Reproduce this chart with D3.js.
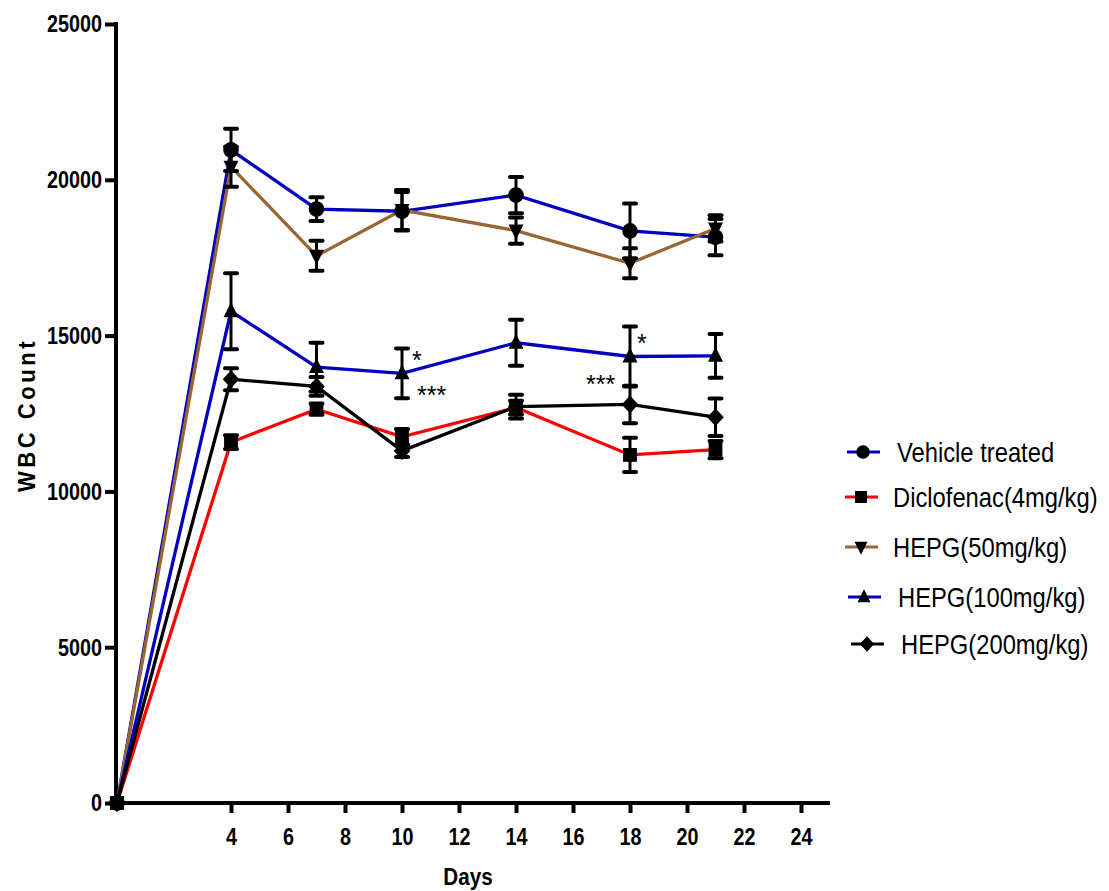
<!DOCTYPE html>
<html><head><meta charset="utf-8">
<script src="https://cdn.jsdelivr.net/npm/d3@7"></script>
<style>body{margin:0;background:#fff;} svg{display:block;}</style>
</head><body>
<svg id="chart" width="1109" height="891"></svg>
<script>
const days = [0, 4, 7, 10, 14, 18, 21];
const seriesNames = ["Vehicle treated", "Diclofenac(4mg/kg)", "HEPG(50mg/kg)", "HEPG(100mg/kg)", "HEPG(200mg/kg)"];
const seriesColors = ["#0000c0", "#ff0000", "#996633", "#0000c0", "#000000"];
const seriesSymbols = ["circle", "square", "down", "up", "diamond"];
const vehicleMean = [0, 20960, 19060, 18990, 19510, 18360, 18160];
const vehicleErr  = [0, 680, 380, 620, 580, 880, 580];
const diclofenacMean = [0, 11580, 12640, 11750, 12690, 11170, 11340];
const diclofenacErr  = [0, 220, 180, 250, 220, 550, 280];
const hepg50Mean = [0, 20420, 17560, 19030, 18370, 17320, 18440];
const hepg50Err  = [0, 640, 480, 640, 420, 480, 420];
const hepg100Mean = [0, 15780, 13990, 13790, 14770, 14330, 14350];
const hepg100Err  = [0, 1220, 780, 800, 740, 960, 700];
const hepg200Mean = [0, 13600, 13370, 11300, 12720, 12790, 12380];
const hepg200Err  = [0, 350, 300, 200, 380, 600, 600];
const yTicks = [0, 5000, 10000, 15000, 20000, 25000];
const xTicks = [4, 6, 8, 10, 12, 14, 16, 18, 20, 22, 24];
const annotations = [
  {day: 10, value: 13790, text: "*", dx: 10, dy: -16},
  {day: 10, value: 13790, text: "***", dx: 15, dy: 19},
  {day: 18, value: 14330, text: "*", dx: 7, dy: -16},
  {day: 18, value: 14330, text: "***", dx: -44, dy: 25}
];

const means = [vehicleMean, diclofenacMean, hepg50Mean, hepg100Mean, hepg200Mean];
const errs = [vehicleErr, diclofenacErr, hepg50Err, hepg100Err, hepg200Err];

const svg = d3.select("#chart");
const x = d3.scaleLinear().domain([0, 24]).range([117, 801]);
const y = d3.scaleLinear().domain([0, 25000]).range([803, 24]);
const font = "'Liberation Sans', Arial, sans-serif";

function squeeze(sel, sx) {
  sel.each(function() {
    const t = d3.select(this);
    const ax = +t.attr("x") || 0;
    t.attr("transform", `translate(${ax},0) scale(${sx},1) translate(${-ax},0)`);
  });
}

// axes
const yAxis = svg.append("g").attr("transform", "translate(116,0)")
  .call(d3.axisLeft(y).tickValues(yTicks).tickSize(11).tickPadding(3).tickFormat(d3.format("d")));
yAxis.select(".domain").remove();
yAxis.append("line").attr("x1", 0).attr("x2", 0).attr("y1", 22).attr("y2", 805)
  .attr("stroke", "#000").attr("stroke-width", 4);
yAxis.selectAll(".tick line").attr("stroke", "#000").attr("stroke-width", 4);
yAxis.selectAll(".tick text").attr("font-family", font).attr("font-weight", "bold")
  .attr("font-size", 23).attr("fill", "#000").attr("dy", "0.34em");
squeeze(yAxis.selectAll(".tick text"), 0.86);

const xAxis = svg.append("g").attr("transform", "translate(0,803)")
  .call(d3.axisBottom(x).tickValues(xTicks).tickSize(10).tickPadding(16));
xAxis.select(".domain").remove();
xAxis.append("line").attr("x1", 114).attr("x2", 830).attr("y1", 0).attr("y2", 0)
  .attr("stroke", "#000").attr("stroke-width", 4);
xAxis.selectAll(".tick line").attr("stroke", "#000").attr("stroke-width", 4);
xAxis.selectAll(".tick text").attr("font-family", font).attr("font-weight", "bold")
  .attr("font-size", 23).attr("fill", "#000");
xAxis.selectAll(".tick text").attr("transform", "scale(0.86,1)").attr("x", function() { return 0; });

const daysT = svg.append("text").attr("x", 468).attr("y", 885).attr("text-anchor", "middle")
  .attr("font-family", font).attr("font-weight", "bold").attr("font-size", 24).text("Days");
squeeze(daysT, 0.86);
svg.append("text").attr("transform", "translate(35,415) rotate(-90) scale(0.92,1)").attr("text-anchor", "middle")
  .attr("font-family", font).attr("font-weight", "bold").attr("font-size", 24)
  .attr("letter-spacing", 3.8).text("WBC Count");

function symbolPath(type, s) {
  if (type === "circle") return d3.symbol(d3.symbolCircle, s * s * 0.85)();
  if (type === "square") return d3.symbol(d3.symbolSquare, s * s * 0.85)();
  if (type === "diamond") return `M0,${-s*0.6}L${s*0.55},0L0,${s*0.6}L${-s*0.55},0Z`;
  if (type === "up") return `M0,${-s*0.6}L${s*0.5},${s*0.4}L${-s*0.5},${s*0.4}Z`;
  if (type === "down") return `M0,${s*0.6}L${s*0.5},${-s*0.4}L${-s*0.5},${-s*0.4}Z`;
}

const line = d3.line().x((d, i) => x(days[i])).y(d => y(d));
const plot = svg.append("g");
means.forEach((m, k) => {
  plot.append("path").datum(m).attr("d", line).attr("fill", "none")
    .attr("stroke", seriesColors[k]).attr("stroke-width", 3.3);
});
means.forEach((m, k) => {
  const g = plot.append("g");
  m.forEach((v, i) => {
    const e = errs[k][i];
    if (!e) return;
    const cx = x(days[i]);
    g.append("line").attr("x1", cx).attr("x2", cx).attr("y1", y(v - e)).attr("y2", y(v + e))
      .attr("stroke", "#000").attr("stroke-width", 3);
    [v - e, v + e].forEach(b => {
      g.append("line").attr("x1", cx - 6).attr("x2", cx + 6).attr("y1", y(b)).attr("y2", y(b))
        .attr("stroke", "#000").attr("stroke-width", 4).attr("stroke-linecap", "round");
    });
  });
});
means.forEach((m, k) => {
  plot.append("g").selectAll("path").data(m).join("path")
    .attr("transform", (d, i) => `translate(${x(days[i])},${y(d)})`)
    .attr("d", symbolPath(seriesSymbols[k], 15)).attr("fill", "#000");
});
annotations.forEach(a => {
  svg.append("text").attr("x", x(a.day) + a.dx).attr("y", y(a.value) + a.dy + 12)
    .attr("font-family", font).attr("font-size", 25).attr("fill", "#000").text(a.text);
});

// legend
const legY = [452, 497, 547, 597, 644];
const legX = [847, 845, 845, 848, 851];
const legTX = [897, 893, 893, 898, 901];
const leg = svg.append("g");
seriesNames.forEach((n, k) => {
  leg.append("line").attr("x1", legX[k]).attr("x2", legX[k] + 33).attr("y1", legY[k]).attr("y2", legY[k])
    .attr("stroke", seriesColors[k]).attr("stroke-width", 3);
  leg.append("path").attr("transform", `translate(${legX[k] + 16},${legY[k]})`)
    .attr("d", symbolPath(seriesSymbols[k], 13)).attr("fill", "#000");
  const t = leg.append("text").attr("x", legTX[k]).attr("y", legY[k] + 10)
    .attr("font-family", font).attr("font-size", 27).attr("fill", "#000").text(n);
  squeeze(t, 0.88);
});
</script>
</body></html>
